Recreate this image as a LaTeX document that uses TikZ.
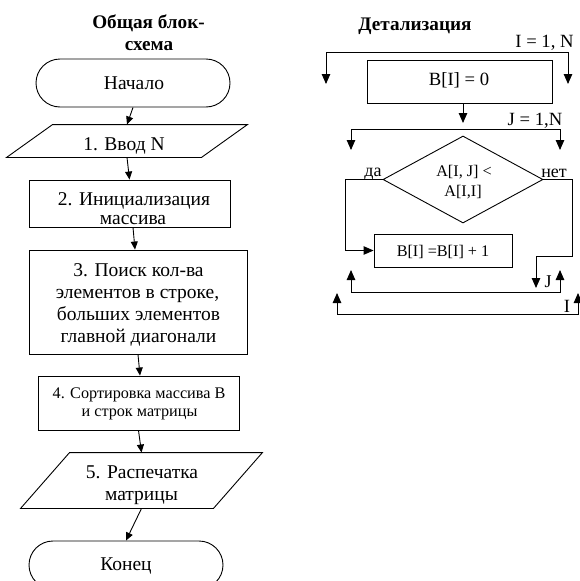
\documentclass[tikz,border=0pt]{standalone}
\usepackage{fontspec}
\setmainfont{Liberation Serif}
\usetikzlibrary{arrows.meta,shapes.misc,shapes.geometric}

\begin{document}
\begin{tikzpicture}[x=1pt,y=-1pt,
  line width=0.9pt,
  fbig/.style={font=\fontsize{19.5}{22}\selectfont},
  flat/.style={font=\fontsize{18.67}{22}\selectfont},
  fmid/.style={font=\fontsize{18}{21}\selectfont},
  fsmall/.style={font=\fontsize{16.2}{19}\selectfont},
  ftitle/.style={font=\fontsize{19.2}{22}\selectfont\bfseries},
  txt/.style={inner sep=0pt, anchor=base},
  blk/.style={draw, rectangle, inner sep=0pt},
  term/.style={draw, rounded rectangle, inner sep=0pt,
               minimum width=194pt, minimum height=48pt},
  io/.style={rectangle, inner sep=0pt},
  flow/.style={-{Triangle[length=8pt,width=7pt]}},
  loopin/.style={-{Triangle[length=10pt,width=8.5pt]}},
  loopboth/.style={{Triangle[length=10pt,width=8.5pt]}-{Triangle[length=10pt,width=8.5pt]}},
]
\useasboundingbox (0,0) rectangle (580,581);

% ---------- general flowchart ----------
\node[txt,ftitle] (title1a) at (148.5,28.3) {Общая блок-};
\node[txt,ftitle] (title1b) at (149,50) {схема};

\node[term] (start) at (133,83) {};
\node[txt,fbig] (startT) at (134,89.3) {Начало};

\node[io, minimum width=194pt, minimum height=32pt] (in1) at (127,141) {};
\draw ([xshift=23pt]in1.north west) -- ([xshift=23pt]in1.north east)
   -- ([xshift=-23pt]in1.south east) -- ([xshift=-23pt]in1.south west) -- cycle;
\node[txt,fbig] (in1T) at (124,150) {1. Ввод N};

\node[blk, minimum width=201pt, minimum height=47pt] (box2) at (129.5,203.5) {};
\node[txt,fbig] (box2a) at (134,205) {2. Инициализация};
\node[txt,fbig] (box2b) at (133,224.5) {массива};

\node[blk, minimum width=218pt, minimum height=104pt] (box3) at (138,302) {};
\node[txt,fbig] (box3a) at (138.5,276) {3. Поиск кол-ва};
\node[txt,fbig] (box3b) at (137.5,298) {элементов в строке,};
\node[txt,fbig] (box3c) at (138.5,320) {больших элементов};
\node[txt,fbig] (box3d) at (138.5,342) {главной диагонали};

\node[blk, minimum width=201pt, minimum height=54pt] (box4) at (138.5,403) {};
\node[txt,fsmall] (box4a) at (139,398) {4. Сортировка массива В};
\node[txt,fsmall] (box4b) at (139.5,416) {и строк матрицы};

\node[io, minimum width=192pt, minimum height=55pt] (out5) at (141.5,480.5) {};
\draw ([xshift=24.5pt]out5.north west) -- ([xshift=24.5pt]out5.north east)
   -- ([xshift=-24.5pt]out5.south east) -- ([xshift=-24.5pt]out5.south west) -- cycle;
\node[txt,fbig] (out5a) at (142,478) {5. Распечатка};
\node[txt,fbig] (out5b) at (141.5,500) {матрицы};

\node[term] (stop) at (126,565) {};
\node[txt,fbig] (stopT) at (126,570) {Конец};

\draw[flow] (start.south) -- (in1.north);
\draw[flow] (in1.south) -- (box2.north);
\draw[flow] ([xshift=3.5pt]box2.south) -- ([xshift=-3pt]box3.north);
\draw[flow] (box3.south) -- ([xshift=1.5pt]box4.north);
\draw[flow] (box4.south) -- (out5.north);
\draw[flow] (out5.south) -- (stop.north);

% ---------- detailed step 3 ----------
\node[txt,ftitle] (title2) at (415,30) {Детализация};

% outer loop over I
\node[txt,flat] (iHead) at (544.5,47) {I = 1, N};
\coordinate (oTL) at (326,52);
\coordinate (oTR) at (568,52);
\coordinate (oInL) at (326,84);
\coordinate (oInR) at (568,84);
\draw[loopboth] (oInL) -- (oTL) -- (oTR) -- (oInR);

\node[blk, minimum width=185pt, minimum height=43pt] (b0) at (459.5,81.5) {};
\node[txt,flat] (b0T) at (459,85) {B[I] = 0};

\coordinate (jEntry) at (463,123);
\draw[loopin] ([xshift=3.5pt]b0.south) -- (jEntry);

% inner loop over J
\node[txt,flat] (jHead) at (535,125) {J = 1,N};
\coordinate (iTL) at (351,129);
\coordinate (iTR) at (560,129);
\coordinate (iInL) at (351,150);
\coordinate (iInR) at (560,150);
\draw[loopboth] (iInL) -- (iTL) -- (iTR) -- (iInR);

\node[draw, diamond, aspect=1.84, inner sep=0pt,
      minimum width=160pt, minimum height=87pt] (cond) at (463,179.5) {};
\node[txt,fsmall] (condA) at (464,176.7) {A[I, J] <};
\node[txt,fsmall] (condB) at (463,196.7) {A[I,I]};
\node[txt,fmid] (yes) at (373,176.7) {да};
\node[txt,fmid] (no) at (554,177) {нет};

\node[blk, minimum width=138pt, minimum height=33pt] (inc) at (443,250.5) {};
\node[txt,fsmall] (incT) at (443,256.7) {B[I] =B[I] + 1};

\draw[loopin] (cond.west) -- ++(-37,0) |- (inc.west);
\coordinate (jDown) at (536,288);
\draw[loopin] (cond.east) -- ++(29,0) -- ++(0,76.5) -| (jDown);

% loop ends
\coordinate (iBL) at (351,292);
\coordinate (iBR) at (560,292);
\coordinate (iUpL) at (351,270);
\coordinate (iUpR) at (560,270);
\draw[loopboth] (iUpL) -- (iBL) -- (iBR) -- (iUpR);
\node[txt,fmid] (jEnd) at (548,287) {J};

\coordinate (oBL) at (337,314);
\coordinate (oBR) at (578,314);
\coordinate (oUpL) at (337,293);
\coordinate (oUpR) at (578,293);
\draw[loopboth] (oUpL) -- (oBL) -- (oBR) -- (oUpR);
\node[txt,flat] (iEnd) at (567,312) {I};

\end{tikzpicture}
\end{document}
